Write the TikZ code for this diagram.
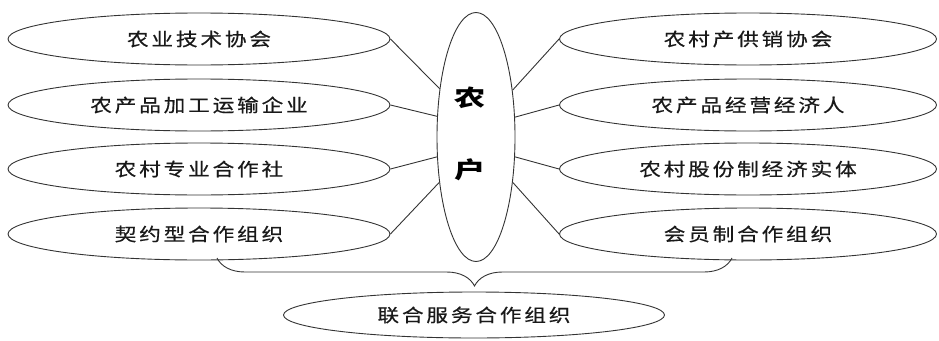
\documentclass[tikz,border=0pt]{standalone}
\usepackage{fontspec}
\usetikzlibrary{shapes.geometric,decorations.pathreplacing}
\newfontfamily\cjk[FakeStretch=1.2,LetterSpace=16,FakeBold=0.6]{Noto Sans CJK SC}
\newfontfamily\cjkc[FakeStretch=1.35]{Noto Sans CJK SC}
\tikzset{
  oval/.style={ellipse,draw=black!80,line width=0.9pt,inner sep=0pt,
    minimum width=382pt,minimum height=52pt,
    font=\cjk\fontsize{18}{20}\selectfont,text=black!90},
  link/.style={draw=black!80,line width=0.9pt},
}
\begin{document}
\begin{tikzpicture}[x=1pt,y=-1pt]
\useasboundingbox (0,0) rectangle (939,340);
% left column
\node[oval] (l1) at (199,39)  {农业技术协会};
\node[oval] (l2) at (199,105) {农产品加工运输企业};
\node[oval] (l3) at (199,169) {农村专业合作社};
\node[oval] (l4) at (199,234) {契约型合作组织};
% right column
\node[oval,minimum width=377pt] (r1) at (748,39)  {农村产供销协会};
\node[oval,minimum width=377pt] (r2) at (748,105) {农产品经营经济人};
\node[oval,minimum width=377pt] (r3) at (748,169) {农村股份制经济实体};
\node[oval,minimum width=377pt] (r4) at (748,234) {会员制合作组织};
% centre
\node[ellipse,draw=black!80,line width=0.9pt,minimum width=78pt,minimum height=249pt,inner sep=0pt] (c) at (476,137) {};
\node[font=\cjkc\bfseries\fontsize{23}{24}\selectfont] (t1) at (470,98) {农};
\node[font=\cjkc\bfseries\fontsize{23}{24}\selectfont] (t2) at (470,170) {户};
% bottom
\node[oval,minimum width=381pt,minimum height=46pt] (b) at (474,315) {联合服务合作组织};
% connectors
\draw[link] (l1.east) -- (c.127.5);
\draw[link] (l2.east) -- (c.152.5);
\draw[link] (l3.east) -- (c.207.5);
\draw[link] (l4.east) -- (c.231.8);
\draw[link] (r1.west) -- (c.52.5);
\draw[link] (r2.west) -- (c.27.5);
\draw[link] (r3.west) -- (c.-27.5);
\draw[link] (r4.west) -- (c.-51.8);
% brace
\coordinate (bl) at (217,258);
\coordinate (br) at (732,258);
\draw[link,decorate,decoration={brace,mirror,amplitude=28pt,aspect=0.5}] (bl) -- (br);
\end{tikzpicture}
\end{document}
